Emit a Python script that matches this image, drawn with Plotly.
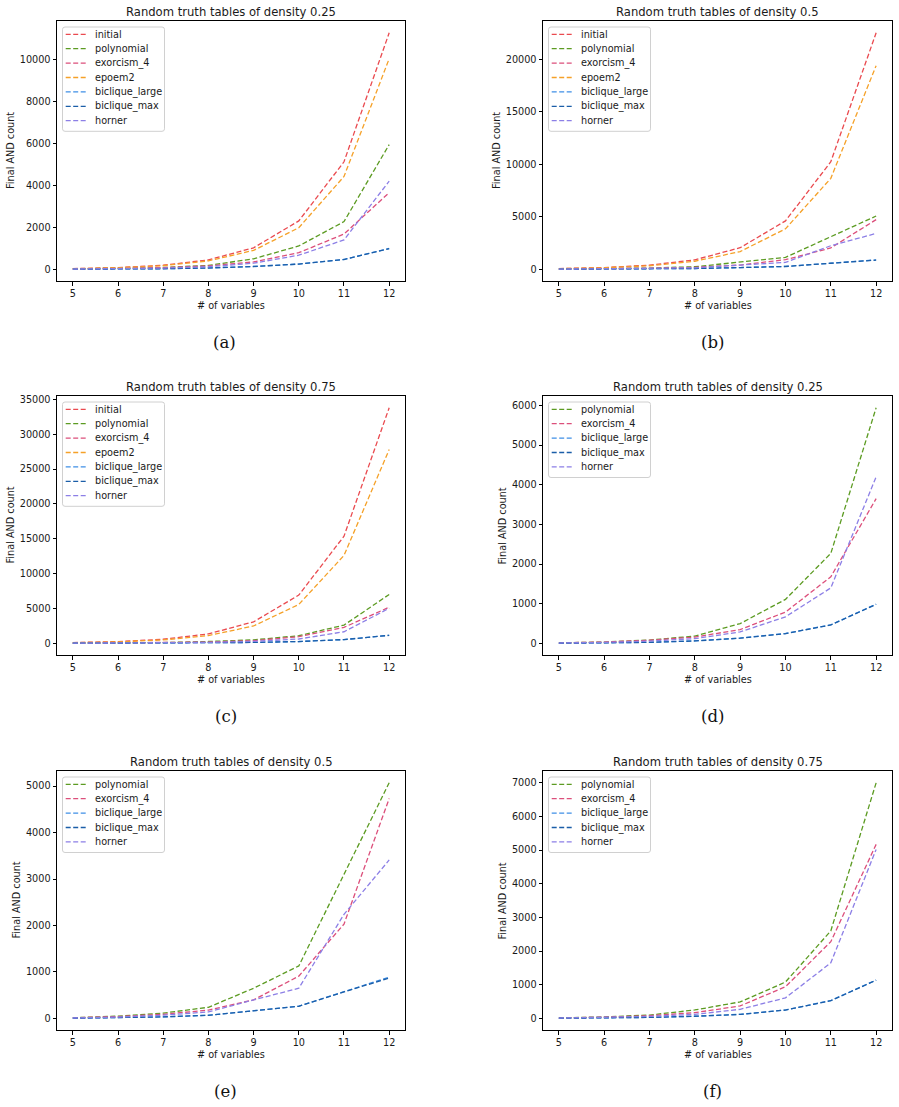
import plotly.graph_objects as go

W, H = 899, 1107

n_vars = [5, 6, 7, 8, 9, 10, 11, 12]

# density 0.25
d25_initial        = [32, 80, 192, 448, 1024, 2304, 5120, 11264]
d25_polynomial     = [15, 35, 85, 185, 500, 1110, 2270, 5940]
d25_exorcism_4     = [15, 35, 80, 160, 350, 790, 1680, 3650]
d25_epoem2         = [28, 70, 170, 400, 900, 1980, 4420, 10030]
d25_biclique_large = [5, 12, 28, 65, 135, 250, 470, 990]
d25_biclique_max   = [5, 11, 26, 62, 132, 248, 465, 985]
d25_horner         = [10, 25, 60, 120, 290, 670, 1400, 4200]

# density 0.5
d50_initial        = [64, 160, 384, 896, 2048, 4608, 10240, 22528]
d50_polynomial     = [15, 50, 115, 240, 650, 1130, 3100, 5070]
d50_exorcism_4     = [15, 40, 90, 180, 400, 910, 2030, 4730]
d50_epoem2         = [55, 140, 330, 760, 1680, 3850, 8660, 19400]
d50_biclique_large = [5, 15, 35, 70, 160, 265, 575, 890]
d50_biclique_max   = [5, 14, 33, 68, 158, 262, 570, 870]
d50_horner         = [10, 30, 70, 140, 400, 650, 2240, 3410]

# density 0.75
d75_initial        = [96, 240, 576, 1344, 3072, 6912, 15360, 33792]
d75_polynomial     = [15, 45, 100, 250, 490, 1080, 2600, 7000]
d75_exorcism_4     = [15, 35, 80, 170, 370, 940, 2280, 5170]
d75_epoem2         = [80, 200, 480, 1100, 2480, 5570, 12600, 27800]
d75_biclique_large = [5, 12, 30, 65, 120, 250, 530, 1140]
d75_biclique_max   = [5, 12, 29, 63, 118, 248, 525, 1135]
d75_horner         = [10, 25, 60, 120, 270, 610, 1650, 5020]

colors = {
    "initial": "#ea4a4f",
    "polynomial": "#5c9b22",
    "exorcism_4": "#dc4f7b",
    "epoem2": "#f5a128",
    "biclique_large": "#3f8fe6",
    "biclique_max": "#1b5ea8",
    "horner": "#8c7fe6",
}

data = {
    "0.25": {"initial": d25_initial, "polynomial": d25_polynomial, "exorcism_4": d25_exorcism_4,
             "epoem2": d25_epoem2, "biclique_large": d25_biclique_large,
             "biclique_max": d25_biclique_max, "horner": d25_horner},
    "0.5": {"initial": d50_initial, "polynomial": d50_polynomial, "exorcism_4": d50_exorcism_4,
            "epoem2": d50_epoem2, "biclique_large": d50_biclique_large,
            "biclique_max": d50_biclique_max, "horner": d50_horner},
    "0.75": {"initial": d75_initial, "polynomial": d75_polynomial, "exorcism_4": d75_exorcism_4,
             "epoem2": d75_epoem2, "biclique_large": d75_biclique_large,
             "biclique_max": d75_biclique_max, "horner": d75_horner},
}

all_methods = ["initial", "polynomial", "exorcism_4", "epoem2", "biclique_large", "biclique_max", "horner"]
sub_methods = ["polynomial", "exorcism_4", "biclique_large", "biclique_max", "horner"]

panels = [
    ("(a)", "0.25", all_methods, (57, 21, 405, 281), 2000, 224),
    ("(b)", "0.5", all_methods, (543, 21, 892, 281), 5000, 712),
    ("(c)", "0.75", all_methods, (57, 396, 405, 655), 5000, 226),
    ("(d)", "0.25", sub_methods, (543, 396, 892, 655), 1000, 712),
    ("(e)", "0.5", sub_methods, (57, 771, 405, 1030), 1000, 226),
    ("(f)", "0.75", sub_methods, (543, 771, 892, 1030), 1000, 712),
]

FONT = "DejaVu Sans"
TXT = "#1a1a1a"
DASH = "5px,2.5px"

def px(x):
    return x / W

def py(y):
    return 1 - y / H

fig = go.Figure()
layout = dict(
    width=W, height=H, margin=dict(l=0, r=0, t=0, b=0),
    paper_bgcolor="white", plot_bgcolor="white", showlegend=False,
    template="none", font=dict(family=FONT, size=9.7, color=TXT),
)
annotations = []
shapes = []

for i, (cap, dens, methods, box, dtick, capx) in enumerate(panels):
    L, T, R, B = box
    k = "" if i == 0 else str(i + 1)
    xa, ya = "x" + k, "y" + k
    vals = [v for m in methods for v in data[dens][m]]
    lo, hi = min(vals), max(vals)
    span = hi - lo
    yr = [lo - 0.05 * span, hi + 0.05 * span]
    for m in methods:
        fig.add_trace(go.Scatter(
            x=n_vars, y=data[dens][m], mode="lines", name=m,
            line=dict(color=colors[m], width=1.3, dash=DASH),
            xaxis=xa, yaxis=ya, showlegend=False,
        ))
    ticks = list(range(0, int(yr[1]) + 1, dtick))
    axcommon = dict(showline=True, mirror=True, linecolor="black", linewidth=1,
                    ticks="outside", ticklen=3.5, tickwidth=0.8, tickcolor="black",
                    showgrid=False, zeroline=False, automargin=False,
                    tickfont=dict(family=FONT, size=9.7, color=TXT))
    layout["xaxis" + k] = dict(domain=[px(L), px(R)], anchor=ya, range=[4.65, 12.35],
                               tickvals=n_vars, **axcommon)
    layout["yaxis" + k] = dict(domain=[py(B), py(T)], anchor=xa, range=yr,
                               tickvals=ticks, tickformat="d", **axcommon)
    cx = (L + R) / 2
    annotations.append(dict(x=px(cx), y=py(T - 9.5), xref="paper", yref="paper",
                            text=f"Random truth tables of density {dens}", showarrow=False,
                            xanchor="center", yanchor="middle",
                            font=dict(family=FONT, size=11.6, color=TXT)))
    annotations.append(dict(x=px(cx), y=py(B + 24), xref="paper", yref="paper",
                            text="# of variables", showarrow=False,
                            xanchor="center", yanchor="middle",
                            font=dict(family=FONT, size=9.7, color=TXT)))
    nd = len(str(ticks[-1]))
    off = 47 if nd >= 5 else 41
    annotations.append(dict(x=px(L - off), y=py((T + B) / 2), xref="paper", yref="paper",
                            text="Final AND count", showarrow=False, textangle=-90,
                            xanchor="center", yanchor="middle",
                            font=dict(family=FONT, size=9.7, color=TXT)))
    annotations.append(dict(x=px(capx), y=py(B + 61), xref="paper", yref="paper",
                            text=cap, showarrow=False, xanchor="center", yanchor="middle",
                            font=dict(family="DejaVu Serif", size=16.5, color="#111111")))
    n = len(methods)
    bl, bt = L + 5.5, T + 6
    bw, bh = 102, n * 14.4 + 3.5
    br, bb = bl + bw, bt + bh
    r = 2.5
    path = (f"M {px(bl + r)},{py(bt)} L {px(br - r)},{py(bt)} Q {px(br)},{py(bt)} {px(br)},{py(bt + r)} "
            f"L {px(br)},{py(bb - r)} Q {px(br)},{py(bb)} {px(br - r)},{py(bb)} "
            f"L {px(bl + r)},{py(bb)} Q {px(bl)},{py(bb)} {px(bl)},{py(bb - r)} "
            f"L {px(bl)},{py(bt + r)} Q {px(bl)},{py(bt)} {px(bl + r)},{py(bt)} Z")
    shapes.append(dict(type="path", path=path, xref="paper", yref="paper",
                       line=dict(color="#d0d0d0", width=1), fillcolor="rgba(255,255,255,0.85)",
                       layer="above"))
    for j, m in enumerate(methods):
        ry = bt + 7.3 + j * 14.4
        shapes.append(dict(type="line", xref="paper", yref="paper",
                           x0=px(L + 8.7), x1=px(L + 29), y0=py(ry), y1=py(ry),
                           line=dict(color=colors[m], width=1.3, dash=DASH), layer="above"))
        annotations.append(dict(x=px(L + 36), y=py(ry), xref="paper", yref="paper",
                                text=m, showarrow=False, xanchor="left", yanchor="middle",
                                font=dict(family=FONT, size=9.7, color=TXT)))

layout["annotations"] = annotations
layout["shapes"] = shapes
fig.update_layout(**layout)
fig.write_html("out.html")
